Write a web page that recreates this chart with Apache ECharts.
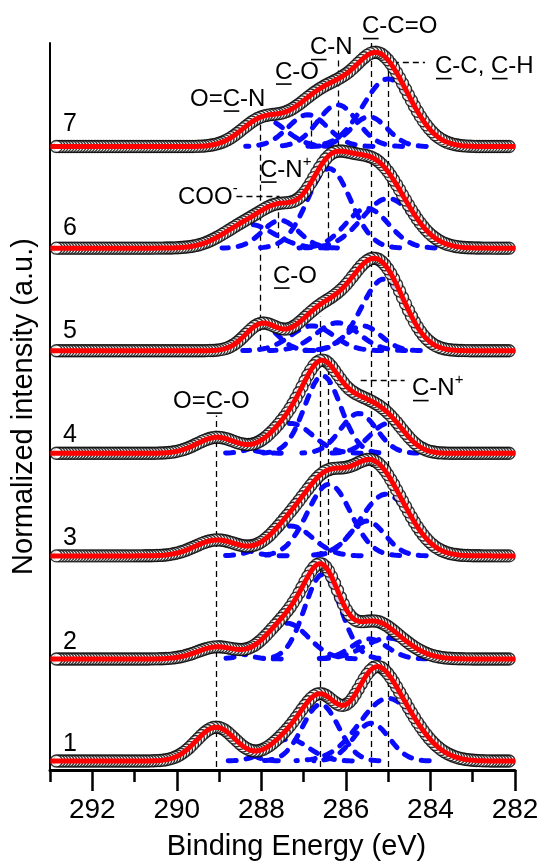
<!DOCTYPE html>
<html>
<head>
<meta charset="utf-8">
<title>C 1s spectra</title>
<script src="https://cdn.jsdelivr.net/npm/echarts@6.0.0/dist/echarts.min.js"></script>
<style>
    html, body { margin: 0; padding: 0; background: #fff; }
    #Chart { width: 545px; height: 866px; }
</style>
</head>
<body>
<div id="Chart"></div>
<script>
// stacked spectra, bottom (1) to top (7)
var spectrum_name = ['1', '2', '3', '4', '5', '6', '7'];
var baseline = [9, 111.5, 215, 318, 421, 524, 626];

// fitted components of each spectrum: [position (eV), height, FWHM (eV)]
var peaks_1 = [[289.07, 34, 1.1], [287.35, 22, 1.1], [286.6, 57, 1.0], [285.4, 38, 1.0], [285.0, 63, 1.6]];
var peaks_2 = [[289.05, 12, 1.1], [287.4, 36, 1.2], [286.55, 85, 1.0], [285.45, 20, 1.0], [285.0, 21, 1.3]];
var peaks_3 = [[289.05, 16, 1.2], [287.3, 30, 1.2], [286.4, 72, 1.2], [285.5, 35, 1.0], [285.05, 62, 1.4]];
var peaks_4 = [[289.05, 16, 1.1], [287.3, 30, 1.2], [286.55, 78, 1.0], [285.7, 40, 1.0], [285.0, 30, 1.0]];
var peaks_5 = [[288.0, 26, 0.9], [286.8, 25, 1.2], [286.2, 28, 1.2], [285.6, 25, 1.0], [285.1, 72, 1.25]];
var peaks_6 = [[288.3, 24, 1.4], [287.55, 28, 1.0], [286.4, 80, 1.2], [285.5, 40, 1.2], [285.0, 50, 1.45]];
var peaks_7 = [[287.95, 28, 1.2], [286.9, 32, 1.1], [286.2, 42, 1.1], [285.45, 30, 1.0], [285.0, 68, 1.4]];

var energy_min = 282, energy_max = 293, energy_step = 0.07;
var major_ticks = [282, 284, 286, 288, 290, 292];
var minor_ticks = [283, 285, 287, 289, 291, 293];

// dashed guides: vertical [eV, from, to], horizontal [level, from eV, to eV]
var guide_v = [[289.07, 3, 356], [288.02, 421, 661], [287.59, 524, 576], [286.82, 626, 656],
    [286.61, 3, 455], [286.41, 524, 610], [286.41, 216, 400], [286.17, 626, 713],
    [285.41, 3, 730], [285.0, 3, 711]];
var guide_h = [[711, 284.89, 284.13], [391, 285.65, 284.61], [576, 288.59, 287.57]];

var all_peaks = [peaks_1, peaks_2, peaks_3, peaks_4, peaks_5, peaks_6, peaks_7];
var FONT = 'Liberation Sans';

function gauss(e, p) {
    var s = p[2] / 2.3548;
    return p[1] * Math.exp(-(e - p[0]) * (e - p[0]) / (2 * s * s));
}

function energies() {
    var list = [];
    var n = Math.round((energy_max - energy_min) / energy_step);
    for (var i = 0; i <= n; i++) {
        list.push(+(energy_min + i * energy_step).toFixed(3));
    }
    list.push(energy_max);
    return list;
}

function buildSeries() {
    var grid_e = energies();
    var series = [];
    var guides = [];
    guide_v.forEach(function (g) {
        guides.push({coords: [[g[0], g[1]], [g[0], g[2]]]});
    });
    guide_h.forEach(function (g) {
        guides.push({coords: [[g[1], g[0]], [g[2], g[0]]]});
    });
    series.push({
        type: 'lines',
        coordinateSystem: 'cartesian2d',
        z: 1,
        silent: true,
        lineStyle: {color: '#000', width: 1.3, type: [6, 4], opacity: 1},
        data: guides
    });

    all_peaks.forEach(function (peaks, i) {
        var y0 = baseline[i];
        peaks.forEach(function (p) {
            var part = grid_e.filter(function (e) { return Math.abs(e - p[0]) <= 1.4 * p[2]; });
            series.push({
                type: 'line',
                z: 2,
                silent: true,
                showSymbol: false,
                lineStyle: {color: '#0a0aff', width: 5, type: [8, 10], cap: 'round'},
                data: part.map(function (e) { return [e, y0 + gauss(e, p)]; })
            });
        });
        var fit = grid_e.map(function (e) {
            var v = y0;
            peaks.forEach(function (p) { v += gauss(e, p); });
            return [e, v];
        });
        series.push({
            name: spectrum_name[i],
            type: 'scatter',
            z: 3,
            silent: true,
            symbol: 'circle',
            symbolSize: 12,
            itemStyle: {color: '#fff', borderColor: '#000', borderWidth: 1.4},
            data: fit.filter(function (d) { return d[0] > 282.1 && d[0] < 292.9; })
        });
        series.push({
            type: 'line',
            z: 4,
            silent: true,
            showSymbol: false,
            lineStyle: {color: '#ff0000', width: 5},
            data: fit
        });
    });
    return series;
}

// text with underlined / superscript parts: [text, underline, superscript]
var measure = document.createElement('canvas').getContext('2d');
function note(x, y, parts, fs) {
    var els = [];
    parts.forEach(function (part) {
        var size = part[2] ? Math.round(fs * 0.62) : fs;
        var dy = part[2] ? -fs * 0.36 : 0;
        measure.font = size + 'px "' + FONT + '"';
        var w = measure.measureText(part[0]).width;
        els.push({
            type: 'text', x: x, y: y + dy, silent: true, z: 10,
            style: {text: part[0], fontSize: size, fontFamily: FONT, fill: '#000', verticalAlign: 'middle'}
        });
        if (part[1]) {
            els.push({
                type: 'rect', silent: true, z: 10,
                shape: {x: x + 1, y: y + fs * 0.47, width: w * 0.9, height: 1.6},
                style: {fill: '#000'}
            });
        }
        x += w;
    });
    return els;
}

function buildNotes() {
    var g = [];
    var fs = 24;
    g = g.concat(note(362, 26.5, [['C', 1], ['-C=O']], fs));
    g = g.concat(note(310, 47.5, [['C', 1], ['-N']], fs));
    g = g.concat(note(275, 72, [['C', 1], ['-O']], fs));
    g = g.concat(note(190, 99, [['O='], ['C', 1], ['-N']], fs));
    g = g.concat(note(435, 66.5, [['C', 1], ['-C, '], ['C', 1], ['-H']], fs));
    g = g.concat(note(260, 170, [['C', 1], ['-N'], ['+', 0, 1]], fs));
    g = g.concat(note(178, 197, [['COO'], ['-', 0, 1]], fs));
    g = g.concat(note(273, 276, [['C', 1], ['-O']], fs));
    g = g.concat(note(173, 401, [['O='], ['C', 1], ['-O']], fs));
    g = g.concat(note(412, 388.5, [['C', 1], ['-N'], ['+', 0, 1]], fs));
    var num_y = [744, 642, 538, 435, 331, 228, 124];
    spectrum_name.forEach(function (s, i) {
        g.push({
            type: 'text', x: 63, y: num_y[i], silent: true, z: 10,
            style: {text: s, fontSize: 25, fontFamily: FONT, fill: '#000', verticalAlign: 'middle'}
        });
    });
    return g;
}

function showChart() {
    var myChart = echarts.init(document.getElementById('Chart'), null, {renderer: 'canvas'});
    var option = {
        animation: false,
        backgroundColor: '#fff',
        grid: {left: 50, right: 30, top: 43, bottom: 93},
        xAxis: [{
            type: 'value',
            min: energy_min,
            max: energy_max,
            inverse: true,
            position: 'bottom',
            name: 'Binding Energy (eV)',
            nameLocation: 'middle',
            nameGap: 62,
            nameTextStyle: {fontSize: 29, fontFamily: FONT, color: '#000', padding: [0, 0, 0, 28]},
            axisLine: {show: true, onZero: false, lineStyle: {color: '#000', width: 3}},
            axisTick: {show: true, customValues: major_ticks, length: 21, lineStyle: {color: '#000', width: 2.5}},
            axisLabel: {show: true, customValues: major_ticks, fontSize: 28, fontFamily: FONT, color: '#000', margin: 26},
            splitLine: {show: false}
        }, {
            type: 'value',
            min: energy_min,
            max: energy_max,
            inverse: true,
            position: 'bottom',
            axisLine: {show: false},
            axisTick: {show: true, customValues: minor_ticks, length: 12, lineStyle: {color: '#000', width: 2.5}},
            axisLabel: {show: false},
            splitLine: {show: false}
        }],
        yAxis: {
            type: 'value',
            min: 0,
            max: 730,
            name: 'Normalized intensity (a.u.)',
            nameLocation: 'middle',
            nameGap: 12,
            nameTextStyle: {fontSize: 29, fontFamily: FONT, color: '#000'},
            axisLine: {show: true, onZero: false, lineStyle: {color: '#000', width: 2}},
            axisTick: {show: false},
            axisLabel: {show: false},
            splitLine: {show: false}
        },
        series: buildSeries(),
        graphic: buildNotes()
    };
    myChart.setOption(option);
}

showChart();
</script>
</body>
</html>
